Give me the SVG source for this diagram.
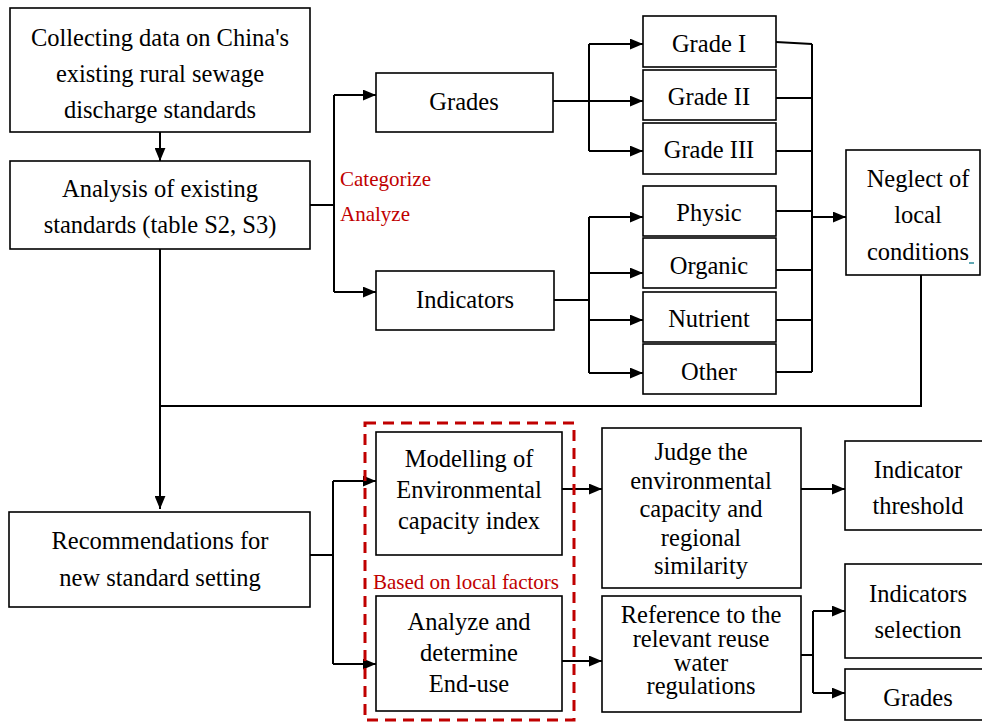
<svg xmlns="http://www.w3.org/2000/svg" width="982" height="722" viewBox="0 0 982 722">
<defs>
<style>
.box{fill:#fff;stroke:#000;stroke-width:1.6}
.t{font-family:'Liberation Serif','Times New Roman',serif;font-size:24.5px;fill:#000;text-anchor:middle}
.r{font-family:'Liberation Serif','Times New Roman',serif;font-size:21px;fill:#c00000}
.c{fill:none;stroke:#000;stroke-width:2}
.dash{fill:none;stroke:#c00000;stroke-width:3;stroke-dasharray:11 7}
</style>
<marker id="ah" viewBox="0 0 12 10" refX="12" refY="5" markerWidth="13" markerHeight="11" markerUnits="userSpaceOnUse" orient="auto">
<path d="M0,0 L12,5 L0,10 Z" fill="#000"/>
</marker>
</defs>
<rect width="982" height="722" fill="#fff"/>

<g id="connectors">
<line class="c" x1="160" y1="132" x2="160" y2="161" marker-end="url(#ah)"/>
<polyline class="c" points="310,205 334,205"/>
<line class="c" x1="334" y1="95" x2="334" y2="292"/>
<line class="c" x1="334" y1="95" x2="376" y2="95" marker-end="url(#ah)"/>
<line class="c" x1="334" y1="292" x2="376" y2="292" marker-end="url(#ah)"/>
<line class="c" x1="553" y1="101" x2="589" y2="101"/>
<line class="c" x1="589" y1="44" x2="589" y2="151"/>
<line class="c" x1="589" y1="44" x2="643" y2="44" marker-end="url(#ah)"/>
<line class="c" x1="589" y1="101" x2="643" y2="101" marker-end="url(#ah)"/>
<line class="c" x1="589" y1="151" x2="643" y2="151" marker-end="url(#ah)"/>
<line class="c" x1="554" y1="300" x2="589" y2="300"/>
<line class="c" x1="589" y1="217" x2="589" y2="373"/>
<line class="c" x1="589" y1="217" x2="643" y2="217" marker-end="url(#ah)"/>
<line class="c" x1="589" y1="273" x2="643" y2="273" marker-end="url(#ah)"/>
<line class="c" x1="589" y1="320" x2="643" y2="320" marker-end="url(#ah)"/>
<line class="c" x1="589" y1="373" x2="643" y2="373" marker-end="url(#ah)"/>
<polyline class="c" points="776,42 812,44"/>
<line class="c" x1="776" y1="98" x2="812" y2="98"/>
<line class="c" x1="776" y1="151" x2="812" y2="151"/>
<line class="c" x1="776" y1="211" x2="812" y2="211"/>
<line class="c" x1="776" y1="270" x2="812" y2="270"/>
<line class="c" x1="776" y1="320" x2="812" y2="320"/>
<line class="c" x1="776" y1="372" x2="812" y2="372"/>
<line class="c" x1="812" y1="44" x2="812" y2="372"/>
<line class="c" x1="812" y1="217" x2="846" y2="217" marker-end="url(#ah)"/>
<polyline class="c" points="921,275 921,406 160,406"/>
<line class="c" x1="160" y1="249" x2="160" y2="509" marker-end="url(#ah)"/>
<line class="c" x1="310" y1="555" x2="333" y2="555"/>
<line class="c" x1="333" y1="481" x2="333" y2="664"/>
<line class="c" x1="333" y1="481" x2="376" y2="481" marker-end="url(#ah)"/>
<line class="c" x1="333" y1="664" x2="376" y2="664" marker-end="url(#ah)"/>
<line class="c" x1="562" y1="489" x2="602" y2="489" marker-end="url(#ah)"/>
<line class="c" x1="801" y1="489" x2="845" y2="489" marker-end="url(#ah)"/>
<line class="c" x1="562" y1="661" x2="602" y2="661" marker-end="url(#ah)"/>
<line class="c" x1="801" y1="655" x2="813" y2="655"/>
<line class="c" x1="813" y1="611" x2="813" y2="693"/>
<line class="c" x1="813" y1="611" x2="845" y2="611" marker-end="url(#ah)"/>
<line class="c" x1="813" y1="693" x2="845" y2="693" marker-end="url(#ah)"/>
</g>

<g id="n-collect">
<rect class="box" x="10" y="8" width="300" height="124"/>
<text class="t" x="160" y="46">Collecting data on China's</text>
<text class="t" x="160" y="82">existing rural sewage</text>
<text class="t" x="160" y="118">discharge standards</text>
</g>
<g id="n-analysis">
<rect class="box" x="10" y="161" width="300" height="88"/>
<text class="t" x="160" y="197">Analysis of existing</text>
<text class="t" x="160" y="233">standards (table S2, S3)</text>
</g>
<g id="lbl-cat">
<text class="r" x="340" y="186">Categorize</text>
<text class="r" x="340" y="221">Analyze</text>
</g>
<g id="n-grades">
<rect class="box" x="376" y="73" width="177" height="59"/>
<text class="t" x="464" y="110">Grades</text>
</g>
<g id="n-indicators">
<rect class="box" x="376" y="271" width="178" height="59"/>
<text class="t" x="465" y="308">Indicators</text>
</g>
<g id="n-g1"><rect class="box" x="643" y="16" width="133" height="51"/><text class="t" x="709" y="52">Grade I</text></g>
<g id="n-g2"><rect class="box" x="643" y="70" width="133" height="50"/><text class="t" x="709" y="105">Grade II</text></g>
<g id="n-g3"><rect class="box" x="643" y="123" width="133" height="51"/><text class="t" x="709" y="158">Grade III</text></g>
<g id="n-physic"><rect class="box" x="643" y="186" width="133" height="50"/><text class="t" x="709" y="221">Physic</text></g>
<g id="n-organic"><rect class="box" x="643" y="238" width="133" height="50"/><text class="t" x="709" y="274">Organic</text></g>
<g id="n-nutrient"><rect class="box" x="643" y="292" width="133" height="50"/><text class="t" x="709" y="327">Nutrient</text></g>
<g id="n-other"><rect class="box" x="643" y="344" width="133" height="50"/><text class="t" x="709" y="380">Other</text></g>
<g id="n-neglect">
<rect class="box" x="846" y="150" width="134" height="125"/>
<text class="t" x="918" y="187">Neglect of</text>
<text class="t" x="918" y="223">local</text>
<text class="t" x="918" y="260">conditions</text>
<line x1="969" y1="263" x2="974" y2="263" stroke="#2a8a9a" stroke-width="1.5"/>
</g>
<g id="n-recommend">
<rect class="box" x="9" y="512" width="301" height="95"/>
<text class="t" x="160" y="549">Recommendations for</text>
<text class="t" x="160" y="586">new standard setting</text>
</g>
<g id="grp-local">
<rect class="dash" x="365" y="423" width="209" height="297"/>
<text class="r" x="373" y="589">Based on local factors</text>
</g>
<g id="n-modelling">
<rect class="box" x="376" y="432" width="186" height="123"/>
<text class="t" x="469" y="467">Modelling of</text>
<text class="t" x="469" y="498">Environmental</text>
<text class="t" x="469" y="529">capacity index</text>
</g>
<g id="n-enduse">
<rect class="box" x="376" y="596" width="186" height="115"/>
<text class="t" x="469" y="630">Analyze and</text>
<text class="t" x="469" y="661">determine</text>
<text class="t" x="469" y="692">End-use</text>
</g>
<g id="n-judge">
<rect class="box" x="602" y="428" width="199" height="160"/>
<text class="t" x="701" y="460">Judge the</text>
<text class="t" x="701" y="489">environmental</text>
<text class="t" x="701" y="517">capacity and</text>
<text class="t" x="701" y="546">regional</text>
<text class="t" x="701" y="574">similarity</text>
</g>
<g id="n-reference">
<rect class="box" x="602" y="596" width="199" height="116"/>
<text class="t" x="701" y="623">Reference to the</text>
<text class="t" x="701" y="647">relevant reuse</text>
<text class="t" x="701" y="671">water</text>
<text class="t" x="701" y="694">regulations</text>
</g>
<g id="n-threshold">
<rect class="box" x="845" y="441" width="140" height="89"/>
<text class="t" x="918" y="478">Indicator</text>
<text class="t" x="918" y="514">threshold</text>
</g>
<g id="n-selection">
<rect class="box" x="845" y="564" width="140" height="94"/>
<text class="t" x="918" y="602">Indicators</text>
<text class="t" x="918" y="638">selection</text>
</g>
<g id="n-grades2">
<rect class="box" x="845" y="669" width="140" height="51"/>
<text class="t" x="918" y="706">Grades</text>
</g>
</svg>
